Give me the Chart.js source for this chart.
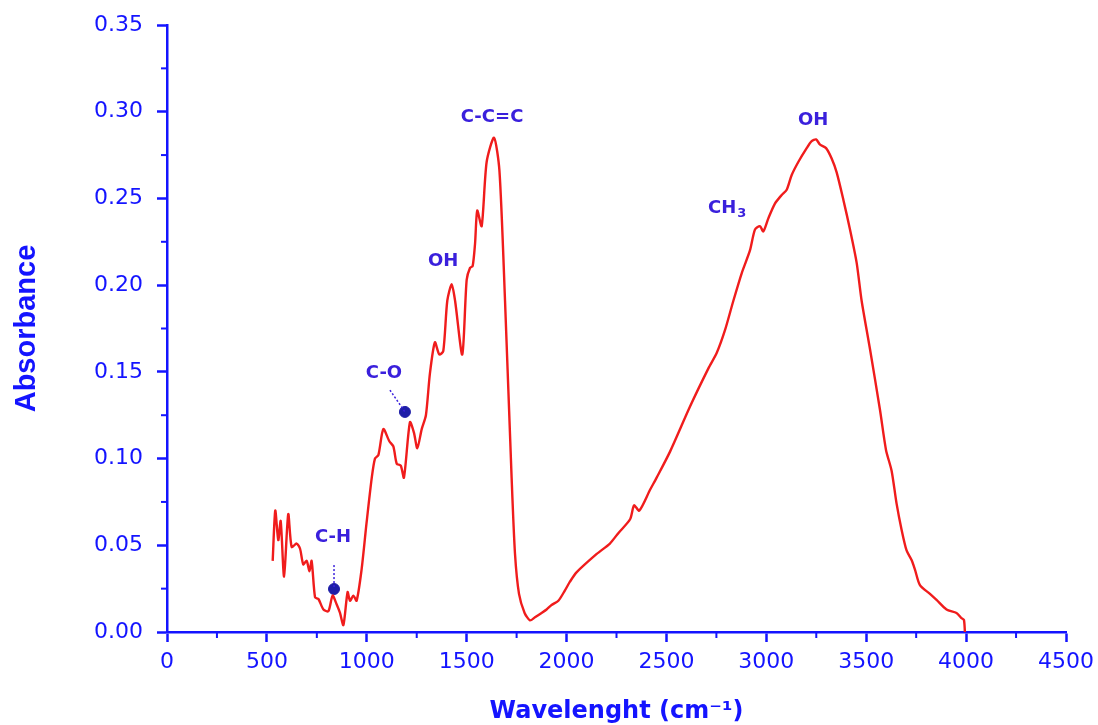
<!DOCTYPE html>
<html>
<head>
<meta charset="utf-8">
<script src="https://cdn.jsdelivr.net/npm/chart.js@4.4.1/dist/chart.umd.min.js"></script>
<style>
  html, body { margin: 0; padding: 0; background: #ffffff; }
</style>
</head>
<body>
<canvas id="ftirChart" width="1098" height="725"></canvas>
<script>
// spectrum
const wavenumber = [
  529, 542, 557, 569, 586, 607, 624, 649, 666, 682, 699, 713, 724, 741, 758, 783, 808, 829, 849, 866,
  883, 904, 916, 933, 949, 974, 999, 1025, 1041, 1058, 1083, 1113, 1133, 1150, 1170, 1186, 1216, 1236,
  1253, 1275, 1296, 1316, 1341, 1363, 1383, 1403, 1425, 1442, 1478, 1500, 1517, 1530, 1542, 1553, 1575,
  1600, 1637, 1664, 1692, 1725, 1742, 1762, 1790, 1817, 1842, 1875, 1900, 1925, 1959, 1992, 2017, 2051,
  2151, 2217, 2259, 2318, 2338, 2364, 2418, 2451, 2518, 2618, 2710, 2752, 2793, 2835, 2877, 2918, 2943,
  2968, 2985, 3010, 3043, 3077, 3102, 3127, 3160, 3202, 3227, 3249, 3269, 3299, 3327, 3352, 3386, 3419,
  3452, 3477, 3519, 3569, 3599, 3627, 3652, 3677, 3702, 3727, 3744, 3769, 3819, 3852, 3902, 3952, 3977,
  3989, 3994
];
const absorbance = [
  0.041, 0.070, 0.053, 0.064, 0.032, 0.068, 0.049, 0.051, 0.048, 0.039, 0.041, 0.035, 0.041, 0.020, 0.019, 0.013, 0.012, 0.021, 0.016, 0.011,
  0.004, 0.023, 0.018, 0.021, 0.018, 0.036, 0.063, 0.089, 0.100, 0.102, 0.117, 0.110, 0.107, 0.097, 0.096, 0.089, 0.121, 0.115,
  0.106, 0.117, 0.125, 0.149, 0.167, 0.160, 0.162, 0.191, 0.2005, 0.191, 0.160, 0.203, 0.210, 0.211, 0.224, 0.243, 0.234,
  0.271, 0.285, 0.266, 0.191, 0.089, 0.045, 0.022, 0.011, 0.0067, 0.0085, 0.011, 0.013, 0.0156, 0.018, 0.024, 0.029, 0.0345,
  0.045, 0.051, 0.057, 0.065, 0.073, 0.070, 0.082, 0.089, 0.104, 0.130, 0.152, 0.161, 0.174, 0.191, 0.207, 0.220, 0.232,
  0.234, 0.231, 0.2385, 0.247, 0.252, 0.255, 0.2635, 0.271, 0.279, 0.283, 0.284, 0.281, 0.279, 0.273, 0.265, 0.249, 0.232,
  0.213, 0.191, 0.163, 0.128, 0.105, 0.093, 0.074, 0.059, 0.047, 0.0415, 0.036, 0.027, 0.022, 0.0185, 0.013, 0.011, 0.008,
  0.007, 0.0
];

// band labels (centre of text, in data units)
const bandText = ['C-H', 'C-O', 'OH', 'C-C=C', 'CH', 'OH'];
const bandX = [831, 1086, 1382, 1627, 2830, 3234];
const bandY = [0.0548, 0.1493, 0.2139, 0.2970, 0.2445, 0.2952];

// marker dots with dashed leaders
const markerX = [836, 1191];
const markerY = [0.0248, 0.1269];
const leaderX = [[836, 836], [1116, 1191]];
const leaderY = [[0.0386, 0.0248], [0.1395, 0.1269]];

// axis ticks
const xMinor = [250, 750, 1250, 1750, 2250, 2750, 3250, 3750, 4250];
const yMinor = [0.025, 0.075, 0.125, 0.175, 0.225, 0.275, 0.325];

const axisBlue = '#1414ff';
const labelBlue = '#3a20dc';
const dotBlue = '#1e1ea8';

const minorTicksPlugin = {
  id: 'minorTicks',
  afterDraw(chart) {
    const { ctx, scales: { x, y } } = chart;
    ctx.save();
    ctx.strokeStyle = axisBlue;
    ctx.lineWidth = 2;
    xMinor.forEach(v => {
      const px = x.getPixelForValue(v);
      ctx.beginPath(); ctx.moveTo(px, x.top); ctx.lineTo(px, x.top + 6); ctx.stroke();
    });
    yMinor.forEach(v => {
      const py = y.getPixelForValue(v);
      ctx.beginPath(); ctx.moveTo(y.right, py); ctx.lineTo(y.right - 6, py); ctx.stroke();
    });
    ctx.restore();
  }
};

const bandLabelsPlugin = {
  id: 'bandLabels',
  afterDatasetsDraw(chart) {
    const { ctx, scales: { x, y } } = chart;
    ctx.save();
    ctx.fillStyle = labelBlue;
    ctx.font = 'bold 18px "DejaVu Sans"';
    ctx.textAlign = 'center';
    ctx.textBaseline = 'middle';
    bandText.forEach((t, i) => {
      const px = x.getPixelForValue(bandX[i]);
      const py = y.getPixelForValue(bandY[i]);
      if (t === 'CH') {
        // CH3 with subscript
        ctx.textAlign = 'right';
        ctx.fillText(t, px + 4, py);
        ctx.font = 'bold 13px "DejaVu Sans"';
        ctx.textAlign = 'left';
        ctx.fillText('3', px + 5, py + 6);
        ctx.font = 'bold 18px "DejaVu Sans"';
        ctx.textAlign = 'center';
      } else {
        ctx.fillText(t, px, py);
      }
    });
    ctx.restore();
  }
};

const leaderSets = leaderX.map((xs, i) => ({
  type: 'line',
  data: xs.map((v, j) => ({ x: v, y: leaderY[i][j] })),
  borderColor: labelBlue,
  borderWidth: 1.5,
  borderDash: [2, 2],
  pointRadius: 0,
  fill: false
}));

new Chart(document.getElementById('ftirChart').getContext('2d'), {
  type: 'scatter',
  data: {
    datasets: [
      {
        type: 'line',
        label: 'Absorbance',
        data: wavenumber.map((w, i) => ({ x: w, y: absorbance[i] })),
        borderColor: '#f01c1c',
        borderWidth: 2.4,
        tension: 0.25,
        pointRadius: 0,
        fill: false,
        clip: false
      },
      ...leaderSets,
      {
        type: 'scatter',
        data: markerX.map((v, i) => ({ x: v, y: markerY[i] })),
        backgroundColor: dotBlue,
        borderColor: dotBlue,
        pointRadius: 5.5
      }
    ]
  },
  options: {
    responsive: false,
    animation: false,
    layout: { padding: { left: 0, top: 25, right: 32, bottom: 0 } },
    plugins: { legend: { display: false }, tooltip: { enabled: false } },
    scales: {
      x: {
        type: 'linear',
        min: 0, max: 4500,
        afterFit: s => { s.height = 93; s.paddingLeft = 0; s.paddingRight = 0; },
        border: { display: true, color: axisBlue, width: 2.5 },
        grid: { drawOnChartArea: false, drawTicks: true, tickLength: 10, tickColor: axisBlue, tickWidth: 2.5 },
        ticks: {
          stepSize: 500, autoSkip: false, maxRotation: 0, padding: 7,
          color: axisBlue, font: { family: 'DejaVu Sans', size: 22 },
          callback: v => String(v)
        },
        title: {
          display: true, text: 'Wavelenght (cm⁻¹)', color: axisBlue,
          font: { family: 'DejaVu Sans', size: 24, weight: 'bold', lineHeight: 1 },
          padding: { top: 0, bottom: 1 }
        }
      },
      y: {
        type: 'linear',
        min: 0, max: 0.35,
        afterFit: s => { s.width = 167; s.paddingTop = 0; s.paddingBottom = 0; },
        border: { display: true, color: axisBlue, width: 2.5 },
        grid: { drawOnChartArea: false, drawTicks: true, tickLength: 10, tickColor: axisBlue, tickWidth: 2.5 },
        ticks: {
          stepSize: 0.05, padding: 14, color: axisBlue,
          font: { family: 'DejaVu Sans', size: 22 },
          callback: v => v.toFixed(2)
        },
        title: {
          display: true, text: 'Absorbance', color: axisBlue,
          font: { family: 'Liberation Sans', size: 29, weight: 'bold', lineHeight: 1.2 },
          padding: { top: 10, bottom: 0 }
        }
      }
    }
  },
  plugins: [minorTicksPlugin, bandLabelsPlugin]
});
</script>
</body>
</html>
